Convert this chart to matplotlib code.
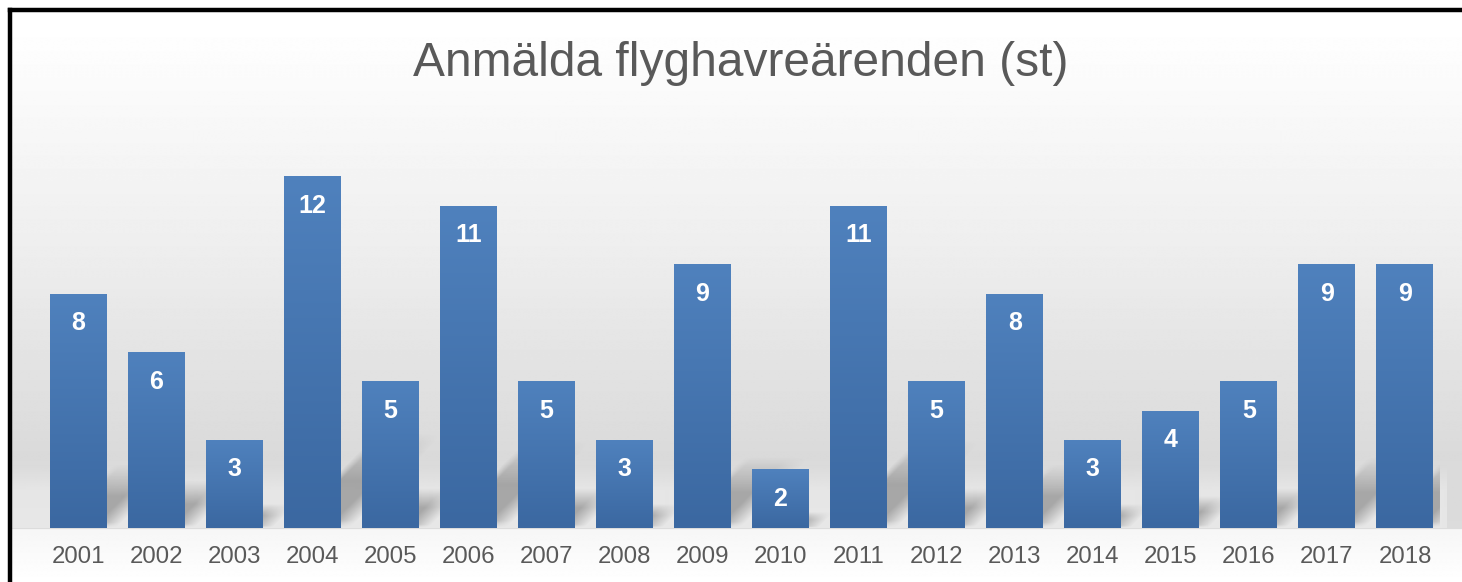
"""Anmälda flyghavreärenden per år, stapeldiagram."""

import numpy as np
import matplotlib

matplotlib.use("Agg")
import matplotlib.pyplot as plt
from matplotlib.colors import LinearSegmentedColormap

years = ["2001", "2002", "2003", "2004", "2005", "2006", "2007", "2008", "2009",
         "2010", "2011", "2012", "2013", "2014", "2015", "2016", "2017", "2018"]
counts = [8, 6, 3, 12, 5, 11, 5, 3, 9, 2, 11, 5, 8, 3, 4, 5, 9, 9]
title = "Anmälda flyghavreärenden (st)"

W, H = 1462, 582
plt.rcParams["font.family"] = ["Liberation Sans", "DejaVu Sans"]

fig = plt.figure(figsize=(W / 100, H / 100), dpi=100)
fig.patch.set_facecolor("white")

# background gradient (whole figure, pixel coords)
bg = fig.add_axes([0, 0, 1, 1], zorder=0)
bg.set_xlim(0, W)
bg.set_ylim(H, 0)
bg.axis("off")
py = np.arange(H)
stops_y = [0, 12, 100, 250, 450, 528]
stops_v = [1.0, 1.0, 0.975, 0.93, 0.855, 0.86]
col = np.interp(py, stops_y, stops_v)
col[py >= 528] = np.interp(py[py >= 528], [528, 582], [0.965, 1.0])
grad = np.repeat(col[:, None], 4, axis=1)
bg.imshow(grad, extent=(12, W, H, 12), cmap="gray", vmin=0, vmax=1,
          aspect="auto", interpolation="bilinear")
# lighter floor band
floor = np.interp(np.arange(465, 528), [465, 490, 528], [0.855, 0.9, 0.905])
bg.imshow(np.repeat(floor[:, None], 4, axis=1), extent=(12, 1447, 528, 465),
          cmap="gray", vmin=0, vmax=1, aspect="auto", interpolation="bilinear")
# black frame, left and top
bg.plot([10, 10], [H, 10], color="black", lw=3.2, solid_capstyle="projecting")
bg.plot([10, W], [10, 10], color="black", lw=3.2, solid_capstyle="projecting")
bg.set_xlim(0, W)
bg.set_ylim(H, 0)

unit = 29.25
ax = fig.add_axes([39 / W, 54 / H, 1405 / W, 14 * unit / H], zorder=1)
ax.patch.set_alpha(0)
x = np.arange(len(years))
bars = ax.bar(x, counts, width=0.73, color="none", zorder=3)
ax.set_xlim(-0.5, len(years) - 0.5)
ax.set_ylim(0, 14)

# soft shadows cast up and to the right
gx = np.linspace(-0.5, len(years) - 0.5, 1400)
gy = np.linspace(0, 4.0, 160)
GX, GY = np.meshgrid(gx, gy)
shade = np.zeros_like(GX)
for rect, v in zip(bars.patches, counts):
    xl, xr = rect.get_x(), rect.get_x() + rect.get_width()
    hs = 0.27 * v
    shear = 0.10 * v / hs
    u = GX - shear * GY
    sx = np.clip((u - xl) / 0.12, 0, 1) * np.clip((xr + 0.12 - u) / 0.3, 0, 1)
    sy = np.clip((hs - GY) / (0.5 * hs), 0, 1) * np.clip(GY / (0.08 * hs), 0, 1)
    shade = np.maximum(shade, sx * sy)
shade[:, gx > 17.45] = 0
shadow_cmap = LinearSegmentedColormap.from_list(
    "sh", [(0.35, 0.35, 0.35, 0.0), (0.35, 0.35, 0.35, 0.45)])
ax.imshow(shade, extent=(-0.5, len(years) - 0.5, 0, 4.0), origin="lower",
          cmap=shadow_cmap, vmin=0, vmax=1, aspect="auto",
          interpolation="bilinear", zorder=2)

bar_cmap = LinearSegmentedColormap.from_list("bar", ["#3b68a1", "#4f81bd"])
for rect in bars.patches:
    x0, w, h = rect.get_x(), rect.get_width(), rect.get_height()
    ax.imshow(np.linspace(0, 1, 64)[:, None], extent=(x0, x0 + w, 0, h),
              origin="lower", cmap=bar_cmap, aspect="auto",
              interpolation="bilinear", zorder=3)

for xi, v in zip(x, counts):
    ax.annotate(str(v), xy=(xi, v), xytext=(0, -21), textcoords="offset points",
                ha="center", va="center", color="white", fontsize=18,
                fontweight="bold", zorder=4)

ax.set_xticks(x)
ax.set_xticklabels(years, fontsize=17.3, color="#595959")
ax.tick_params(axis="x", length=0, pad=13)
ax.set_yticks([])
for s in ax.spines.values():
    s.set_visible(False)
ax.set_xlim(-0.5, len(years) - 0.5)
ax.set_ylim(0, 14)

fig.text(741 / W, 1 - 63 / H, title, ha="center", va="center",
         fontsize=34.5, color="#595959")

fig.savefig("out.png", dpi=100)
